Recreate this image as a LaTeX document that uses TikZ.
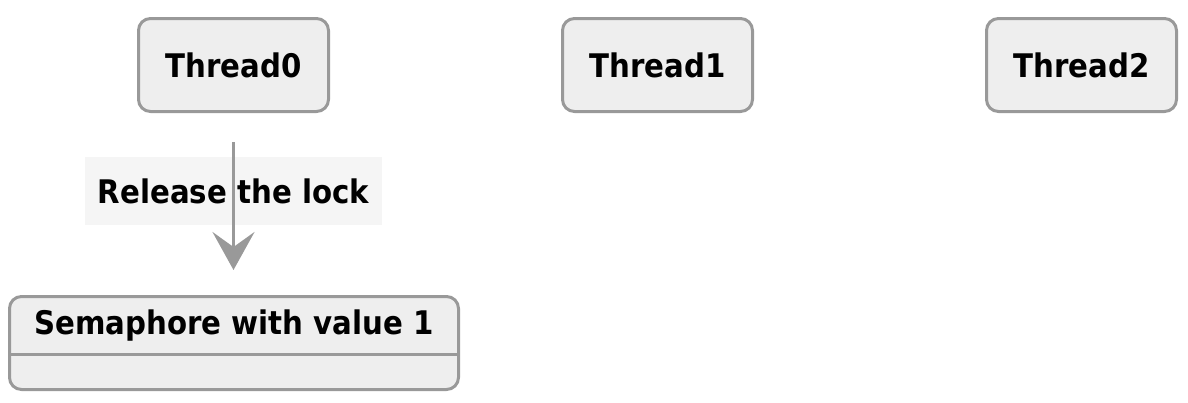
\documentclass[tikz,border=0pt]{standalone}
\usepackage{fontspec}
\setmainfont{DejaVu Sans Condensed}
\usepackage{xcolor}
\usetikzlibrary{arrows.meta}
\definecolor{boxfill}{HTML}{EEEEEE}
\definecolor{boxline}{HTML}{999999}
\definecolor{lblfill}{HTML}{F5F5F5}
\tikzset{
  thread/.style={draw=boxline, line width=3pt, fill=boxfill, rounded corners=12pt,
    minimum width=190pt, minimum height=93pt, inner sep=0pt,
    font=\fontsize{32.5}{38}\selectfont\bfseries},
  semabox/.style={draw=boxline, line width=3pt, fill=boxfill, rounded corners=12pt,
    minimum width=449pt, minimum height=93pt, inner sep=0pt},
  lbl/.style={fill=lblfill, minimum width=297pt, minimum height=68pt, inner sep=0pt,
    font=\fontsize{32.5}{38}\selectfont\bfseries},
  flow/.style={draw=boxline, line width=3pt,
    -{Stealth[length=38pt, width=42pt, inset=15pt]}}
}

\begin{document}
\begin{tikzpicture}[x=1pt, y=-1pt]
\useasboundingbox (0,0) rectangle (1188,402);
\node[thread] (t0) at (233.5,65) {Thread0};
\node[thread] (t1) at (657.5,65) {Thread1};
\node[thread] (t2) at (1081.5,65) {Thread2};
\node[semabox] (sem) at (234,343) {};
\draw[boxline, line width=3pt] ([yshift=-59pt]sem.north west) -- ([yshift=-59pt]sem.north east);
\node[font=\fontsize{32.5}{38}\selectfont\bfseries] (semtext) at (234,326) {Semaphore with value 1};
\node[lbl] (rel) at (233.5,191) {Release the lock};
\draw[flow, shorten <=29pt, shorten >=25pt] (t0.south) -- (t0.south |- sem.north);
\end{tikzpicture}
\end{document}
